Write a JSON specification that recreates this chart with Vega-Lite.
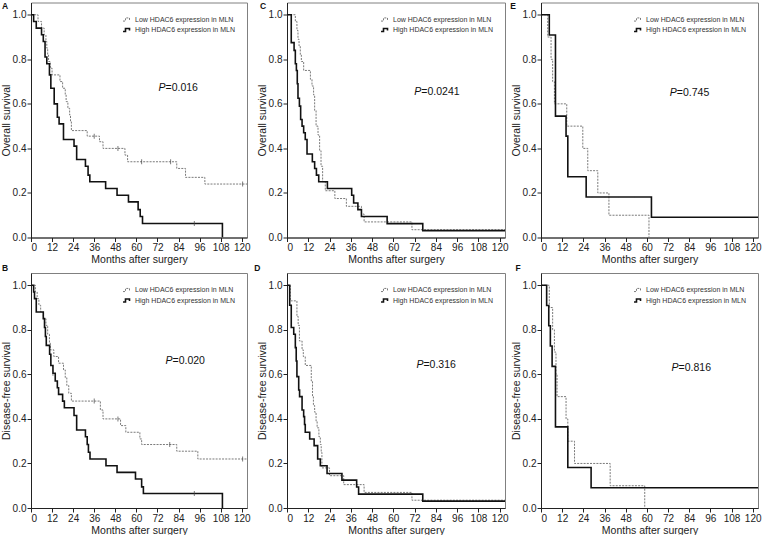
{
  "$schema": "https://vega.github.io/schema/vega-lite/v6.json",
  "padding": {"left": 0, "top": 0.5, "right": 0, "bottom": 0},
  "background": "white",
  "config": {
    "font": "Liberation Sans",
    "view": {"stroke": "#808080", "strokeWidth": 1},
    "axis": {"labelFont": "Liberation Sans", "labelFontSize": 10, "labelColor": "#222", "titleFont": "Liberation Sans", "titleFontSize": 10.5, "titleFontWeight": "normal", "titleColor": "#222", "tickSize": 4, "tickColor": "#222", "domainColor": "#222", "labelPadding": 1, "titlePadding": 2, "grid": false, "labelOverlap": false, "labelBound": false},
    "axisX": {"tickCount": 11},
    "axisY": {"titlePadding": 1, "tickCount": 6},
    "legend": {"title": null, "orient": "top-right", "offset": 12, "labelFont": "Liberation Sans", "labelFontSize": 7, "labelColor": "#333", "rowPadding": 1, "labelOffset": 2, "symbolType": "M-1,0.35H-0.45V-0.35H0.45V0.1", "symbolSize": 80, "symbolFillColor": "transparent", "padding": 0}
  },
  "datasets": {
    "km": [
      {"p":"A","g":"Low","t":0,"s":1},{"p":"A","g":"Low","t":4,"s":0.97},{"p":"A","g":"Low","t":6,"s":0.94},{"p":"A","g":"Low","t":7.5,"s":0.91},{"p":"A","g":"Low","t":8.5,"s":0.88},{"p":"A","g":"Low","t":9,"s":0.85},{"p":"A","g":"Low","t":9.5,"s":0.82},{"p":"A","g":"Low","t":10,"s":0.79},{"p":"A","g":"Low","t":11,"s":0.76},{"p":"A","g":"Low","t":12,"s":0.73},{"p":"A","g":"Low","t":16.5,"s":0.7},{"p":"A","g":"Low","t":18,"s":0.67},{"p":"A","g":"Low","t":19.5,"s":0.64},{"p":"A","g":"Low","t":20,"s":0.61},{"p":"A","g":"Low","t":21,"s":0.58},{"p":"A","g":"Low","t":22,"s":0.55},{"p":"A","g":"Low","t":22.5,"s":0.52},{"p":"A","g":"Low","t":23,"s":0.48},{"p":"A","g":"Low","t":32,"s":0.455},{"p":"A","g":"Low","t":39,"s":0.43},{"p":"A","g":"Low","t":41,"s":0.4},{"p":"A","g":"Low","t":53.5,"s":0.37},{"p":"A","g":"Low","t":55,"s":0.34},{"p":"A","g":"Low","t":83,"s":0.31},{"p":"A","g":"Low","t":88,"s":0.27},{"p":"A","g":"Low","t":99,"s":0.24},{"p":"A","g":"Low","t":123,"s":0.24},
      {"p":"A","g":"High","t":0,"s":1},{"p":"A","g":"High","t":1.5,"s":0.97},{"p":"A","g":"High","t":3,"s":0.94},{"p":"A","g":"High","t":6,"s":0.91},{"p":"A","g":"High","t":7,"s":0.88},{"p":"A","g":"High","t":8,"s":0.81},{"p":"A","g":"High","t":9,"s":0.78},{"p":"A","g":"High","t":10.5,"s":0.73},{"p":"A","g":"High","t":11.3,"s":0.67},{"p":"A","g":"High","t":13.2,"s":0.6},{"p":"A","g":"High","t":15,"s":0.54},{"p":"A","g":"High","t":16,"s":0.51},{"p":"A","g":"High","t":18.5,"s":0.44},{"p":"A","g":"High","t":24.5,"s":0.41},{"p":"A","g":"High","t":26,"s":0.35},{"p":"A","g":"High","t":31,"s":0.32},{"p":"A","g":"High","t":32.5,"s":0.28},{"p":"A","g":"High","t":33.5,"s":0.25},{"p":"A","g":"High","t":42.5,"s":0.22},{"p":"A","g":"High","t":49,"s":0.19},{"p":"A","g":"High","t":55.5,"s":0.16},{"p":"A","g":"High","t":61,"s":0.125},{"p":"A","g":"High","t":62.2,"s":0.094},{"p":"A","g":"High","t":63.5,"s":0.063},{"p":"A","g":"High","t":109,"s":0},
      {"p":"B","g":"Low","t":0,"s":1},{"p":"B","g":"Low","t":2.5,"s":0.97},{"p":"B","g":"Low","t":3.5,"s":0.94},{"p":"B","g":"Low","t":4.5,"s":0.91},{"p":"B","g":"Low","t":5.5,"s":0.88},{"p":"B","g":"Low","t":7,"s":0.85},{"p":"B","g":"Low","t":8.5,"s":0.82},{"p":"B","g":"Low","t":9.5,"s":0.78},{"p":"B","g":"Low","t":10.5,"s":0.74},{"p":"B","g":"Low","t":11,"s":0.71},{"p":"B","g":"Low","t":13,"s":0.68},{"p":"B","g":"Low","t":15.7,"s":0.65},{"p":"B","g":"Low","t":18.5,"s":0.62},{"p":"B","g":"Low","t":19.5,"s":0.585},{"p":"B","g":"Low","t":20.4,"s":0.55},{"p":"B","g":"Low","t":21.5,"s":0.515},{"p":"B","g":"Low","t":23,"s":0.48},{"p":"B","g":"Low","t":39.5,"s":0.44},{"p":"B","g":"Low","t":41,"s":0.4},{"p":"B","g":"Low","t":51,"s":0.37},{"p":"B","g":"Low","t":54,"s":0.34},{"p":"B","g":"Low","t":62,"s":0.31},{"p":"B","g":"Low","t":63,"s":0.285},{"p":"B","g":"Low","t":83,"s":0.255},{"p":"B","g":"Low","t":95,"s":0.22},{"p":"B","g":"Low","t":123,"s":0.22},
      {"p":"B","g":"High","t":0,"s":1},{"p":"B","g":"High","t":1.5,"s":0.97},{"p":"B","g":"High","t":2,"s":0.94},{"p":"B","g":"High","t":3,"s":0.88},{"p":"B","g":"High","t":7,"s":0.85},{"p":"B","g":"High","t":7.7,"s":0.81},{"p":"B","g":"High","t":8.2,"s":0.77},{"p":"B","g":"High","t":8.7,"s":0.73},{"p":"B","g":"High","t":10.6,"s":0.69},{"p":"B","g":"High","t":11.3,"s":0.64},{"p":"B","g":"High","t":12.5,"s":0.605},{"p":"B","g":"High","t":13.8,"s":0.57},{"p":"B","g":"High","t":15,"s":0.54},{"p":"B","g":"High","t":15.7,"s":0.51},{"p":"B","g":"High","t":18,"s":0.48},{"p":"B","g":"High","t":19,"s":0.45},{"p":"B","g":"High","t":24.5,"s":0.415},{"p":"B","g":"High","t":26,"s":0.35},{"p":"B","g":"High","t":31,"s":0.32},{"p":"B","g":"High","t":32,"s":0.285},{"p":"B","g":"High","t":32.7,"s":0.25},{"p":"B","g":"High","t":33.6,"s":0.22},{"p":"B","g":"High","t":42.7,"s":0.19},{"p":"B","g":"High","t":49,"s":0.16},{"p":"B","g":"High","t":59.5,"s":0.13},{"p":"B","g":"High","t":63,"s":0.095},{"p":"B","g":"High","t":64,"s":0.065},{"p":"B","g":"High","t":109,"s":0},
      {"p":"C","g":"Low","t":0,"s":1},{"p":"C","g":"Low","t":4.7,"s":0.97},{"p":"C","g":"Low","t":5.6,"s":0.93},{"p":"C","g":"Low","t":6.2,"s":0.89},{"p":"C","g":"Low","t":6.8,"s":0.86},{"p":"C","g":"Low","t":7.5,"s":0.82},{"p":"C","g":"Low","t":8.1,"s":0.79},{"p":"C","g":"Low","t":9.4,"s":0.75},{"p":"C","g":"Low","t":13.2,"s":0.71},{"p":"C","g":"Low","t":14.1,"s":0.68},{"p":"C","g":"Low","t":15,"s":0.64},{"p":"C","g":"Low","t":15.6,"s":0.57},{"p":"C","g":"Low","t":16.4,"s":0.5},{"p":"C","g":"Low","t":17.5,"s":0.46},{"p":"C","g":"Low","t":18.4,"s":0.39},{"p":"C","g":"Low","t":19.2,"s":0.32},{"p":"C","g":"Low","t":20.1,"s":0.25},{"p":"C","g":"Low","t":21.6,"s":0.21},{"p":"C","g":"Low","t":27,"s":0.175},{"p":"C","g":"Low","t":33.5,"s":0.14},{"p":"C","g":"Low","t":42,"s":0.105},{"p":"C","g":"Low","t":43.5,"s":0.07},{"p":"C","g":"Low","t":70.5,"s":0.035},{"p":"C","g":"Low","t":123,"s":0.035},
      {"p":"C","g":"High","t":0,"s":1},{"p":"C","g":"High","t":2.4,"s":0.875},{"p":"C","g":"High","t":4,"s":0.84},{"p":"C","g":"High","t":4.7,"s":0.78},{"p":"C","g":"High","t":5.3,"s":0.75},{"p":"C","g":"High","t":5.8,"s":0.69},{"p":"C","g":"High","t":6.2,"s":0.625},{"p":"C","g":"High","t":7,"s":0.59},{"p":"C","g":"High","t":7.7,"s":0.53},{"p":"C","g":"High","t":8.5,"s":0.5},{"p":"C","g":"High","t":9.4,"s":0.47},{"p":"C","g":"High","t":10.3,"s":0.44},{"p":"C","g":"High","t":11.3,"s":0.375},{"p":"C","g":"High","t":14.3,"s":0.34},{"p":"C","g":"High","t":15.6,"s":0.31},{"p":"C","g":"High","t":16.6,"s":0.28},{"p":"C","g":"High","t":17.9,"s":0.25},{"p":"C","g":"High","t":22.8,"s":0.22},{"p":"C","g":"High","t":36.5,"s":0.19},{"p":"C","g":"High","t":37.6,"s":0.155},{"p":"C","g":"High","t":40,"s":0.125},{"p":"C","g":"High","t":42,"s":0.094},{"p":"C","g":"High","t":56.5,"s":0.0625},{"p":"C","g":"High","t":76.6,"s":0.031},{"p":"C","g":"High","t":123,"s":0.031},
      {"p":"D","g":"Low","t":0,"s":1},{"p":"D","g":"Low","t":1.9,"s":0.93},{"p":"D","g":"Low","t":5.6,"s":0.86},{"p":"D","g":"Low","t":6.3,"s":0.82},{"p":"D","g":"Low","t":7,"s":0.75},{"p":"D","g":"Low","t":8.5,"s":0.71},{"p":"D","g":"Low","t":9.2,"s":0.68},{"p":"D","g":"Low","t":10.3,"s":0.64},{"p":"D","g":"Low","t":13.7,"s":0.57},{"p":"D","g":"Low","t":14.4,"s":0.5},{"p":"D","g":"Low","t":14.9,"s":0.46},{"p":"D","g":"Low","t":15.6,"s":0.43},{"p":"D","g":"Low","t":16.4,"s":0.39},{"p":"D","g":"Low","t":17,"s":0.36},{"p":"D","g":"Low","t":18,"s":0.32},{"p":"D","g":"Low","t":18.8,"s":0.285},{"p":"D","g":"Low","t":19.3,"s":0.25},{"p":"D","g":"Low","t":19.7,"s":0.18},{"p":"D","g":"Low","t":24,"s":0.145},{"p":"D","g":"Low","t":32,"s":0.105},{"p":"D","g":"Low","t":43.5,"s":0.07},{"p":"D","g":"Low","t":70.5,"s":0.035},{"p":"D","g":"Low","t":123,"s":0.035},
      {"p":"D","g":"High","t":0,"s":1},{"p":"D","g":"High","t":1.5,"s":0.91},{"p":"D","g":"High","t":2.4,"s":0.81},{"p":"D","g":"High","t":3.8,"s":0.78},{"p":"D","g":"High","t":4.7,"s":0.72},{"p":"D","g":"High","t":5.2,"s":0.66},{"p":"D","g":"High","t":5.6,"s":0.59},{"p":"D","g":"High","t":6.6,"s":0.53},{"p":"D","g":"High","t":7.1,"s":0.5},{"p":"D","g":"High","t":8.5,"s":0.44},{"p":"D","g":"High","t":9.4,"s":0.41},{"p":"D","g":"High","t":9.9,"s":0.375},{"p":"D","g":"High","t":10.3,"s":0.34},{"p":"D","g":"High","t":12.8,"s":0.31},{"p":"D","g":"High","t":15.3,"s":0.28},{"p":"D","g":"High","t":17.3,"s":0.22},{"p":"D","g":"High","t":18.8,"s":0.19},{"p":"D","g":"High","t":22.6,"s":0.155},{"p":"D","g":"High","t":31,"s":0.125},{"p":"D","g":"High","t":39.3,"s":0.094},{"p":"D","g":"High","t":40.4,"s":0.0625},{"p":"D","g":"High","t":76.6,"s":0.031},{"p":"D","g":"High","t":123,"s":0.031},
      {"p":"E","g":"Low","t":0,"s":1},{"p":"E","g":"Low","t":3.8,"s":0.9},{"p":"E","g":"Low","t":5.7,"s":0.8},{"p":"E","g":"Low","t":6.6,"s":0.7},{"p":"E","g":"Low","t":7.6,"s":0.6},{"p":"E","g":"Low","t":14.6,"s":0.5},{"p":"E","g":"Low","t":23.7,"s":0.4},{"p":"E","g":"Low","t":26.5,"s":0.3},{"p":"E","g":"Low","t":32.2,"s":0.2},{"p":"E","g":"Low","t":38.5,"s":0.1},{"p":"E","g":"Low","t":61.2,"s":0},
      {"p":"E","g":"High","t":0,"s":1},{"p":"E","g":"High","t":4.7,"s":0.909},{"p":"E","g":"High","t":8.2,"s":0.545},{"p":"E","g":"High","t":14.2,"s":0.455},{"p":"E","g":"High","t":15.2,"s":0.273},{"p":"E","g":"High","t":25.6,"s":0.182},{"p":"E","g":"High","t":62.6,"s":0.091},{"p":"E","g":"High","t":123,"s":0.091},
      {"p":"F","g":"Low","t":0,"s":1},{"p":"F","g":"Low","t":4.7,"s":0.9},{"p":"F","g":"Low","t":6.6,"s":0.8},{"p":"F","g":"Low","t":7.6,"s":0.7},{"p":"F","g":"Low","t":8.5,"s":0.6},{"p":"F","g":"Low","t":9.1,"s":0.5},{"p":"F","g":"Low","t":14.2,"s":0.4},{"p":"F","g":"Low","t":15.2,"s":0.3},{"p":"F","g":"Low","t":19,"s":0.2},{"p":"F","g":"Low","t":39.2,"s":0.1},{"p":"F","g":"Low","t":58.8,"s":0},
      {"p":"F","g":"High","t":0,"s":1},{"p":"F","g":"High","t":3.2,"s":0.909},{"p":"F","g":"High","t":4.4,"s":0.818},{"p":"F","g":"High","t":5.3,"s":0.727},{"p":"F","g":"High","t":6.3,"s":0.636},{"p":"F","g":"High","t":8.2,"s":0.364},{"p":"F","g":"High","t":15.2,"s":0.182},{"p":"F","g":"High","t":28.4,"s":0.091},{"p":"F","g":"High","t":123,"s":0.091}
    ],
    "cens": [
      {"p":"A","g":"Low","t":36,"s":0.455},{"p":"A","g":"Low","t":49.5,"s":0.4},{"p":"A","g":"Low","t":63,"s":0.34},{"p":"A","g":"Low","t":79.5,"s":0.34},{"p":"A","g":"Low","t":120.5,"s":0.24},{"p":"A","g":"High","t":93,"s":0.063},
      {"p":"B","g":"Low","t":36,"s":0.48},{"p":"B","g":"Low","t":49.5,"s":0.4},{"p":"B","g":"Low","t":79,"s":0.285},{"p":"B","g":"Low","t":120.5,"s":0.22},{"p":"B","g":"High","t":12.5,"s":0.605},{"p":"B","g":"High","t":93,"s":0.065}
    ],
    "pv": [
      {"p":"A","v":"=0.016"},{"p":"B","v":"=0.020"},{"p":"C","v":"=0.0241"},{"p":"D","v":"=0.316"},{"p":"E","v":"=0.745"},{"p":"F","v":"=0.816"}
    ]
  },
  "resolve": {"scale": {"color": "independent", "strokeDash": "independent", "strokeWidth": "independent"}, "legend": {"color": "independent", "strokeDash": "independent", "strokeWidth": "independent"}},
  "spacing": 2,
  "hconcat": [
    {
      "vconcat": [
        {
          "width": 216, "height": 235,
          "layer": [
            {"data": {"name": "km"}, "transform": [{"filter": "datum.p == 'A'"}],
             "mark": {"type": "line", "interpolate": "step-after", "clip": true},
             "encoding": {
               "x": {"field": "t", "type": "quantitative", "scale": {"domain": [0, 123], "nice": false}, "axis": {"values": [0,12,24,36,48,60,72,84,96,108,120], "tickCount": 11, "labelOverlap": false, "title": "Months after surgery"}},
               "y": {"field": "s", "type": "quantitative", "scale": {"domain": [0, 1.055], "nice": false}, "axis": {"values": [0,0.2,0.4,0.6,0.8,1], "tickCount": 6, "format": ".1f", "labelOverlap": false, "title": "Overall survival"}},
               "color": {"field": "g", "type": "nominal", "scale": {"domain": ["Low","High"], "range": ["#7a7a7a","#111111"]}, "legend": {"labelExpr": "datum.label + ' HDAC6 expression in MLN'"}},
               "strokeDash": {"field": "g", "type": "nominal", "scale": {"domain": ["Low","High"], "range": [[2,1.2],[1,0]]}, "legend": {"labelExpr": "datum.label + ' HDAC6 expression in MLN'"}},
               "strokeWidth": {"field": "g", "type": "nominal", "scale": {"domain": ["Low","High"], "range": [1,1.6]}, "legend": {"labelExpr": "datum.label + ' HDAC6 expression in MLN'"}}
             }},
            {"data": {"name": "cens"}, "transform": [{"filter": "datum.p == 'A'"}],
             "mark": {"type": "tick", "orient": "vertical", "size": 5, "thickness": 1, "color": "#444"},
             "encoding": {"x": {"field": "t", "type": "quantitative"}, "y": {"field": "s", "type": "quantitative"}}},
            {"data": {"name": "pv"}, "transform": [{"filter": "datum.p == 'A'"}],
             "mark": {"type": "text", "align": "left", "baseline": "alphabetic", "fontWeight": "bold", "fontSize": 8.5, "color": "#111"},
             "encoding": {"x": {"datum": -16.5, "type": "quantitative"}, "y": {"datum": 1.027, "type": "quantitative"}, "text": {"field": "p"}}},
            {"data": {"name": "pv"}, "transform": [{"filter": "datum.p == 'A'"}],
             "mark": {"type": "text", "align": "right", "baseline": "middle", "fontStyle": "italic", "fontSize": 10.5, "color": "#111"},
             "encoding": {"x": {"datum": 76.6, "type": "quantitative"}, "y": {"datum": 0.669, "type": "quantitative"}, "text": {"value": "P"}}},
            {"data": {"name": "pv"}, "transform": [{"filter": "datum.p == 'A'"}],
             "mark": {"type": "text", "align": "left", "baseline": "middle", "fontSize": 10.5, "color": "#111"},
             "encoding": {"x": {"datum": 76.6, "type": "quantitative"}, "y": {"datum": 0.669, "type": "quantitative"}, "text": {"field": "v"}}}
          ]
        },
        {
          "width": 216, "height": 235,
          "layer": [
            {"data": {"name": "km"}, "transform": [{"filter": "datum.p == 'B'"}],
             "mark": {"type": "line", "interpolate": "step-after", "clip": true},
             "encoding": {
               "x": {"field": "t", "type": "quantitative", "scale": {"domain": [0, 123], "nice": false}, "axis": {"values": [0,12,24,36,48,60,72,84,96,108,120], "tickCount": 11, "labelOverlap": false, "title": "Months after surgery"}},
               "y": {"field": "s", "type": "quantitative", "scale": {"domain": [0, 1.055], "nice": false}, "axis": {"values": [0,0.2,0.4,0.6,0.8,1], "tickCount": 6, "format": ".1f", "labelOverlap": false, "title": "Disease-free survival"}},
               "color": {"field": "g", "type": "nominal", "scale": {"domain": ["Low","High"], "range": ["#7a7a7a","#111111"]}, "legend": {"labelExpr": "datum.label + ' HDAC6 expression in MLN'"}},
               "strokeDash": {"field": "g", "type": "nominal", "scale": {"domain": ["Low","High"], "range": [[2,1.2],[1,0]]}, "legend": {"labelExpr": "datum.label + ' HDAC6 expression in MLN'"}},
               "strokeWidth": {"field": "g", "type": "nominal", "scale": {"domain": ["Low","High"], "range": [1,1.6]}, "legend": {"labelExpr": "datum.label + ' HDAC6 expression in MLN'"}}
             }},
            {"data": {"name": "cens"}, "transform": [{"filter": "datum.p == 'B'"}],
             "mark": {"type": "tick", "orient": "vertical", "size": 5, "thickness": 1, "color": "#444"},
             "encoding": {"x": {"field": "t", "type": "quantitative"}, "y": {"field": "s", "type": "quantitative"}}},
            {"data": {"name": "pv"}, "transform": [{"filter": "datum.p == 'B'"}],
             "mark": {"type": "text", "align": "left", "baseline": "alphabetic", "fontWeight": "bold", "fontSize": 8.5, "color": "#111"},
             "encoding": {"x": {"datum": -16.5, "type": "quantitative"}, "y": {"datum": 1.066, "type": "quantitative"}, "text": {"field": "p"}}},
            {"data": {"name": "pv"}, "transform": [{"filter": "datum.p == 'B'"}],
             "mark": {"type": "text", "align": "right", "baseline": "middle", "fontStyle": "italic", "fontSize": 10.5, "color": "#111"},
             "encoding": {"x": {"datum": 80.6, "type": "quantitative"}, "y": {"datum": 0.66, "type": "quantitative"}, "text": {"value": "P"}}},
            {"data": {"name": "pv"}, "transform": [{"filter": "datum.p == 'B'"}],
             "mark": {"type": "text", "align": "left", "baseline": "middle", "fontSize": 10.5, "color": "#111"},
             "encoding": {"x": {"datum": 80.6, "type": "quantitative"}, "y": {"datum": 0.66, "type": "quantitative"}, "text": {"field": "v"}}}
          ]
        }
      ],
      "spacing": 35.5, "bounds": "flush",
      "resolve": {"scale": {"color": "independent", "strokeDash": "independent", "strokeWidth": "independent"}, "legend": {"color": "independent", "strokeDash": "independent", "strokeWidth": "independent"}}
    },
    {
      "hconcat": [
        {
          "vconcat": [
            {
              "width": 218, "height": 235,
              "layer": [
                {"data": {"name": "km"}, "transform": [{"filter": "datum.p == 'C'"}],
                 "mark": {"type": "line", "interpolate": "step-after", "clip": true},
                 "encoding": {
                   "x": {"field": "t", "type": "quantitative", "scale": {"domain": [0, 123], "nice": false}, "axis": {"values": [0,12,24,36,48,60,72,84,96,108,120], "tickCount": 11, "labelOverlap": false, "title": "Months after surgery"}},
                   "y": {"field": "s", "type": "quantitative", "scale": {"domain": [0, 1.055], "nice": false}, "axis": {"values": [0,0.2,0.4,0.6,0.8,1], "tickCount": 6, "format": ".1f", "labelOverlap": false, "title": "Overall survival"}},
                   "color": {"field": "g", "type": "nominal", "scale": {"domain": ["Low","High"], "range": ["#7a7a7a","#111111"]}, "legend": {"labelExpr": "datum.label + ' HDAC6 expression in MLN'"}},
                   "strokeDash": {"field": "g", "type": "nominal", "scale": {"domain": ["Low","High"], "range": [[2,1.2],[1,0]]}, "legend": {"labelExpr": "datum.label + ' HDAC6 expression in MLN'"}},
                   "strokeWidth": {"field": "g", "type": "nominal", "scale": {"domain": ["Low","High"], "range": [1,1.6]}, "legend": {"labelExpr": "datum.label + ' HDAC6 expression in MLN'"}}
                 }},
                {"data": {"name": "pv"}, "transform": [{"filter": "datum.p == 'C'"}],
                 "mark": {"type": "text", "align": "left", "baseline": "alphabetic", "fontWeight": "bold", "fontSize": 8.5, "color": "#111"},
                 "encoding": {"x": {"datum": -15.2, "type": "quantitative"}, "y": {"datum": 1.027, "type": "quantitative"}, "text": {"field": "p"}}},
                {"data": {"name": "pv"}, "transform": [{"filter": "datum.p == 'C'"}],
                 "mark": {"type": "text", "align": "right", "baseline": "middle", "fontStyle": "italic", "fontSize": 10.5, "color": "#111"},
                 "encoding": {"x": {"datum": 75.8, "type": "quantitative"}, "y": {"datum": 0.654, "type": "quantitative"}, "text": {"value": "P"}}},
                {"data": {"name": "pv"}, "transform": [{"filter": "datum.p == 'C'"}],
                 "mark": {"type": "text", "align": "left", "baseline": "middle", "fontSize": 10.5, "color": "#111"},
                 "encoding": {"x": {"datum": 75.8, "type": "quantitative"}, "y": {"datum": 0.654, "type": "quantitative"}, "text": {"field": "v"}}}
              ]
            },
            {
              "width": 218, "height": 235,
              "layer": [
                {"data": {"name": "km"}, "transform": [{"filter": "datum.p == 'D'"}],
                 "mark": {"type": "line", "interpolate": "step-after", "clip": true},
                 "encoding": {
                   "x": {"field": "t", "type": "quantitative", "scale": {"domain": [0, 123], "nice": false}, "axis": {"values": [0,12,24,36,48,60,72,84,96,108,120], "tickCount": 11, "labelOverlap": false, "title": "Months after surgery"}},
                   "y": {"field": "s", "type": "quantitative", "scale": {"domain": [0, 1.055], "nice": false}, "axis": {"values": [0,0.2,0.4,0.6,0.8,1], "tickCount": 6, "format": ".1f", "labelOverlap": false, "title": "Disease-free survival"}},
                   "color": {"field": "g", "type": "nominal", "scale": {"domain": ["Low","High"], "range": ["#7a7a7a","#111111"]}, "legend": {"labelExpr": "datum.label + ' HDAC6 expression in MLN'"}},
                   "strokeDash": {"field": "g", "type": "nominal", "scale": {"domain": ["Low","High"], "range": [[2,1.2],[1,0]]}, "legend": {"labelExpr": "datum.label + ' HDAC6 expression in MLN'"}},
                   "strokeWidth": {"field": "g", "type": "nominal", "scale": {"domain": ["Low","High"], "range": [1,1.6]}, "legend": {"labelExpr": "datum.label + ' HDAC6 expression in MLN'"}}
                 }},
                {"data": {"name": "pv"}, "transform": [{"filter": "datum.p == 'D'"}],
                 "mark": {"type": "text", "align": "left", "baseline": "alphabetic", "fontWeight": "bold", "fontSize": 8.5, "color": "#111"},
                 "encoding": {"x": {"datum": -18.5, "type": "quantitative"}, "y": {"datum": 1.066, "type": "quantitative"}, "text": {"field": "p"}}},
                {"data": {"name": "pv"}, "transform": [{"filter": "datum.p == 'D'"}],
                 "mark": {"type": "text", "align": "right", "baseline": "middle", "fontStyle": "italic", "fontSize": 10.5, "color": "#111"},
                 "encoding": {"x": {"datum": 77, "type": "quantitative"}, "y": {"datum": 0.644, "type": "quantitative"}, "text": {"value": "P"}}},
                {"data": {"name": "pv"}, "transform": [{"filter": "datum.p == 'D'"}],
                 "mark": {"type": "text", "align": "left", "baseline": "middle", "fontSize": 10.5, "color": "#111"},
                 "encoding": {"x": {"datum": 77, "type": "quantitative"}, "y": {"datum": 0.644, "type": "quantitative"}, "text": {"field": "v"}}}
              ]
            }
          ],
          "spacing": 35.5, "bounds": "flush",
          "resolve": {"scale": {"color": "independent", "strokeDash": "independent", "strokeWidth": "independent"}, "legend": {"color": "independent", "strokeDash": "independent", "strokeWidth": "independent"}}
        },
        {
          "vconcat": [
            {
              "width": 217, "height": 235,
              "layer": [
                {"data": {"name": "km"}, "transform": [{"filter": "datum.p == 'E'"}],
                 "mark": {"type": "line", "interpolate": "step-after", "clip": true},
                 "encoding": {
                   "x": {"field": "t", "type": "quantitative", "scale": {"domain": [0, 123], "nice": false}, "axis": {"values": [0,12,24,36,48,60,72,84,96,108,120], "tickCount": 11, "labelOverlap": false, "title": "Months after surgery"}},
                   "y": {"field": "s", "type": "quantitative", "scale": {"domain": [0, 1.055], "nice": false}, "axis": {"values": [0,0.2,0.4,0.6,0.8,1], "tickCount": 6, "format": ".1f", "labelOverlap": false, "title": "Overall survival"}},
                   "color": {"field": "g", "type": "nominal", "scale": {"domain": ["Low","High"], "range": ["#7a7a7a","#111111"]}, "legend": {"labelExpr": "datum.label + ' HDAC6 expression in MLN'"}},
                   "strokeDash": {"field": "g", "type": "nominal", "scale": {"domain": ["Low","High"], "range": [[2,1.2],[1,0]]}, "legend": {"labelExpr": "datum.label + ' HDAC6 expression in MLN'"}},
                   "strokeWidth": {"field": "g", "type": "nominal", "scale": {"domain": ["Low","High"], "range": [1,1.6]}, "legend": {"labelExpr": "datum.label + ' HDAC6 expression in MLN'"}}
                 }},
                {"data": {"name": "pv"}, "transform": [{"filter": "datum.p == 'E'"}],
                 "mark": {"type": "text", "align": "left", "baseline": "alphabetic", "fontWeight": "bold", "fontSize": 8.5, "color": "#111"},
                 "encoding": {"x": {"datum": -17.5, "type": "quantitative"}, "y": {"datum": 1.027, "type": "quantitative"}, "text": {"field": "p"}}},
                {"data": {"name": "pv"}, "transform": [{"filter": "datum.p == 'E'"}],
                 "mark": {"type": "text", "align": "right", "baseline": "middle", "fontStyle": "italic", "fontSize": 10.5, "color": "#111"},
                 "encoding": {"x": {"datum": 77, "type": "quantitative"}, "y": {"datum": 0.65, "type": "quantitative"}, "text": {"value": "P"}}},
                {"data": {"name": "pv"}, "transform": [{"filter": "datum.p == 'E'"}],
                 "mark": {"type": "text", "align": "left", "baseline": "middle", "fontSize": 10.5, "color": "#111"},
                 "encoding": {"x": {"datum": 77, "type": "quantitative"}, "y": {"datum": 0.65, "type": "quantitative"}, "text": {"field": "v"}}}
              ]
            },
            {
              "width": 217, "height": 235,
              "layer": [
                {"data": {"name": "km"}, "transform": [{"filter": "datum.p == 'F'"}],
                 "mark": {"type": "line", "interpolate": "step-after", "clip": true},
                 "encoding": {
                   "x": {"field": "t", "type": "quantitative", "scale": {"domain": [0, 123], "nice": false}, "axis": {"values": [0,12,24,36,48,60,72,84,96,108,120], "tickCount": 11, "labelOverlap": false, "title": "Months after surgery"}},
                   "y": {"field": "s", "type": "quantitative", "scale": {"domain": [0, 1.055], "nice": false}, "axis": {"values": [0,0.2,0.4,0.6,0.8,1], "tickCount": 6, "format": ".1f", "labelOverlap": false, "title": "Disease-free survival"}},
                   "color": {"field": "g", "type": "nominal", "scale": {"domain": ["Low","High"], "range": ["#7a7a7a","#111111"]}, "legend": {"labelExpr": "datum.label + ' HDAC6 expression in MLN'"}},
                   "strokeDash": {"field": "g", "type": "nominal", "scale": {"domain": ["Low","High"], "range": [[2,1.2],[1,0]]}, "legend": {"labelExpr": "datum.label + ' HDAC6 expression in MLN'"}},
                   "strokeWidth": {"field": "g", "type": "nominal", "scale": {"domain": ["Low","High"], "range": [1,1.6]}, "legend": {"labelExpr": "datum.label + ' HDAC6 expression in MLN'"}}
                 }},
                {"data": {"name": "pv"}, "transform": [{"filter": "datum.p == 'F'"}],
                 "mark": {"type": "text", "align": "left", "baseline": "alphabetic", "fontWeight": "bold", "fontSize": 8.5, "color": "#111"},
                 "encoding": {"x": {"datum": -14.5, "type": "quantitative"}, "y": {"datum": 1.066, "type": "quantitative"}, "text": {"field": "p"}}},
                {"data": {"name": "pv"}, "transform": [{"filter": "datum.p == 'F'"}],
                 "mark": {"type": "text", "align": "right", "baseline": "middle", "fontStyle": "italic", "fontSize": 10.5, "color": "#111"},
                 "encoding": {"x": {"datum": 78, "type": "quantitative"}, "y": {"datum": 0.628, "type": "quantitative"}, "text": {"value": "P"}}},
                {"data": {"name": "pv"}, "transform": [{"filter": "datum.p == 'F'"}],
                 "mark": {"type": "text", "align": "left", "baseline": "middle", "fontSize": 10.5, "color": "#111"},
                 "encoding": {"x": {"datum": 78, "type": "quantitative"}, "y": {"datum": 0.628, "type": "quantitative"}, "text": {"field": "v"}}}
              ]
            }
          ],
          "spacing": 35.5, "bounds": "flush",
          "resolve": {"scale": {"color": "independent", "strokeDash": "independent", "strokeWidth": "independent"}, "legend": {"color": "independent", "strokeDash": "independent", "strokeWidth": "independent"}}
        }
      ],
      "spacing": 0,
      "resolve": {"scale": {"color": "independent", "strokeDash": "independent", "strokeWidth": "independent"}, "legend": {"color": "independent", "strokeDash": "independent", "strokeWidth": "independent"}}
    }
  ]
}
